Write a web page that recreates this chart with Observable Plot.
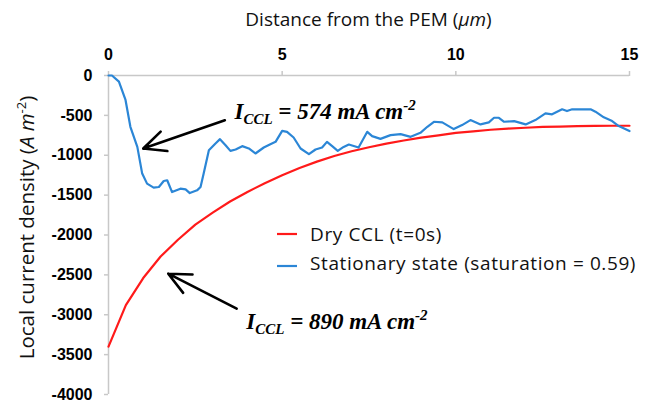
<!DOCTYPE html>
<html>
<head>
<meta charset="utf-8">
<script src="https://cdn.jsdelivr.net/npm/d3@7"></script>
<script src="https://cdn.jsdelivr.net/npm/@observablehq/plot@0.6"></script>
<style>
  html, body { margin: 0; padding: 0; background: white; }
  #chart { width: 662px; height: 403px; }
</style>
</head>
<body>
<div id="chart"></div>
<script>
// ---- Data ----
const xTicks = [0, 5, 10, 15];
const yTicks = [0, -500, -1000, -1500, -2000, -2500, -3000, -3500, -4000];

// Dry CCL (t=0s)
const redX = [0, 0.5, 1, 1.5, 2, 2.5, 3, 3.5, 4, 4.5, 5, 5.5, 6, 6.5, 7, 7.5, 8, 8.5, 9, 9.5, 10, 10.5, 11, 11.5, 12, 12.5, 13, 13.5, 14, 14.5, 15];
const redY = [-3400, -2880, -2540, -2270, -2060, -1870, -1720, -1580, -1460, -1350, -1250, -1160, -1080, -1010, -950, -900, -855, -815, -780, -750, -720, -700, -680, -665, -655, -645, -640, -635, -632, -630, -630];

// Stationary state (saturation = 0.59)
const blueX = [0, 0.1, 0.3, 0.49, 0.63, 0.83, 0.97, 1.11, 1.3, 1.45, 1.59, 1.69, 1.83, 2.07, 2.22, 2.34, 2.55, 2.65, 2.74, 2.89, 3.08, 3.21, 3.37, 3.51, 3.66, 3.85, 4.04, 4.23, 4.47, 4.66, 4.81, 5.0, 5.14, 5.33, 5.53, 5.77, 5.96, 6.15, 6.29, 6.44, 6.6, 6.77, 6.92, 7.2, 7.45, 7.59, 7.83, 8.12, 8.41, 8.7, 8.98, 9.18, 9.37, 9.61, 9.94, 10.18, 10.42, 10.71, 10.95, 11.1, 11.24, 11.39, 11.68, 12.01, 12.29, 12.58, 12.77, 13.06, 13.2, 13.35, 13.88, 14.02, 14.26, 14.5, 14.69, 15.0];
const blueY = [0, 0, -77, -307, -643, -895, -1230, -1356, -1406, -1398, -1323, -1314, -1462, -1419, -1428, -1474, -1440, -1398, -1230, -937, -852, -798, -874, -945, -928, -886, -915, -978, -903, -861, -832, -694, -706, -777, -915, -987, -928, -903, -832, -886, -945, -895, -865, -903, -706, -760, -795, -748, -735, -769, -719, -643, -580, -588, -672, -622, -559, -613, -588, -530, -530, -580, -572, -613, -559, -475, -487, -424, -446, -424, -424, -454, -525, -572, -634, -697];

// Annotations (data coordinates)
const arrowX1 = [3.35, 3.69];
const arrowY1 = [-561, -2924];
const arrowX2 = [1.0, 1.72];
const arrowY2 = [-916, -2485];
const annX = [3.64, 3.98];
const annY = [-548, -3184];
const annValue = ["574", "890"];

const seriesNames = ["Dry CCL (t=0s)", "Stationary state (saturation = 0.59)"];
const seriesColors = ["#ff1a1a", "#2b86d6"];

// ---- Build tables ----
const red = redX.map((x, i) => ({x, y: redY[i]}));
const blue = blueX.map((x, i) => ({x, y: blueY[i]}));
const arrows = arrowX1.map((x1, i) => ({x1, y1: arrowY1[i], x2: arrowX2[i], y2: arrowY2[i]}));

const axisGray = "#c8c8c8";
const plot = Plot.plot({
  width: 662,
  height: 403,
  marginLeft: 108,
  marginRight: 33,
  marginTop: 75,
  marginBottom: 9,
  style: {background: "white", overflow: "visible"},
  x: {domain: [0, 15], label: null, axis: null},
  y: {domain: [-4000, 0], label: null, axis: null},
  marks: [
    Plot.ruleY([0], {stroke: axisGray, strokeWidth: 1.5}),
    Plot.ruleX([0], {stroke: axisGray, strokeWidth: 1.5}),
    Plot.axisX({anchor: "top", ticks: xTicks, tickSize: 5, tickPadding: 11, tickFormat: d => String(d),
      stroke: axisGray, strokeWidth: 1.5, fill: "black",
      fontWeight: "bold", fontSize: 16, fontFamily: "Liberation Sans", label: null}),
    Plot.axisY({ticks: yTicks, tickSize: 4, tickPadding: 12, tickFormat: d => String(d),
      stroke: axisGray, strokeWidth: 1.5, fill: "black",
      fontWeight: "bold", fontSize: 16, fontFamily: "Liberation Sans", label: null}),
    Plot.line(red, {x: "x", y: "y", stroke: seriesColors[0], strokeWidth: 2.2}),
    Plot.line(blue, {x: "x", y: "y", stroke: seriesColors[1], strokeWidth: 2.2}),
    Plot.arrow(arrows, {x1: "x1", y1: "y1", x2: "x2", y2: "y2", stroke: "black", strokeWidth: 2.6, headLength: 14, headAngle: 50})
  ]
});

document.getElementById("chart").appendChild(plot);

const sx = plot.scale("x"), sy = plot.scale("y");
const svg = d3.select(plot);

// X axis title (top)
const xt = svg.append("text")
  .attr("x", (sx.apply(0) + sx.apply(15)) / 2)
  .attr("y", 26)
  .attr("text-anchor", "middle")
  .attr("font-family", "Open Sans")
  .attr("font-size", 19)
  .attr("fill", "#111");
xt.append("tspan").text("Distance from the PEM (");
xt.append("tspan").attr("font-style", "italic").text("μm");
xt.append("tspan").text(")");

// Y axis title (rotated)
const yt = svg.append("text")
  .attr("transform", `translate(34,${(sy.apply(0) + sy.apply(-4000)) / 2 - 7}) rotate(-90)`)
  .attr("text-anchor", "middle")
  .attr("font-family", "Open Sans")
  .attr("font-size", 20.5)
  .attr("fill", "#111");
yt.append("tspan").text("Local current density (");
yt.append("tspan").attr("font-style", "italic").text("A m");
yt.append("tspan").attr("font-size", 13).attr("dy", -8).text("-2");
yt.append("tspan").attr("dy", 8).text(")");

// Annotations
annX.forEach((ax, i) => {
  const t = svg.append("text")
    .attr("x", sx.apply(ax))
    .attr("y", sy.apply(annY[i]))
    .attr("text-anchor", "start")
    .attr("font-family", "Liberation Serif")
    .attr("font-weight", "bold")
    .attr("font-style", "italic")
    .attr("font-size", 23)
    .attr("fill", "black");
  t.append("tspan").text("I");
  t.append("tspan").attr("font-size", 15).attr("dy", 5).text("CCL");
  t.append("tspan").attr("dy", -5).text(` = ${annValue[i]} mA cm`);
  t.append("tspan").attr("font-size", 15).attr("dy", -9).text("-2");
});

// Legend
const legX = 277, legY = [234, 266], textY = [234, 263];
seriesNames.forEach((name, i) => {
  svg.append("line")
    .attr("x1", legX).attr("x2", legX + 20)
    .attr("y1", legY[i]).attr("y2", legY[i])
    .attr("stroke", seriesColors[i]).attr("stroke-width", 2.2);
  svg.append("text")
    .attr("x", legX + 33).attr("y", textY[i])
    .attr("dy", "0.35em")
    .attr("text-anchor", "start")
    .attr("font-family", "Open Sans")
    .attr("font-size", 19)
    .attr("letter-spacing", 0.6)
    .attr("fill", "#111")
    .text(name);
});
</script>
</body>
</html>
